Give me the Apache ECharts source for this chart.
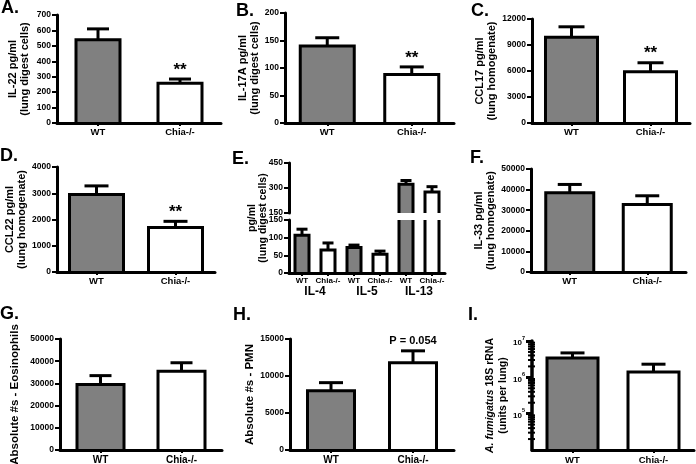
<!DOCTYPE html>
<html><head><meta charset="utf-8">
<script src="https://cdn.jsdelivr.net/npm/echarts@6/dist/echarts.min.js"></script>
<style>html,body{margin:0;padding:0;background:#fff}#c{width:696px;height:464px}</style>
</head><body><div id="c"></div>
<script>
// ---------- data ----------
const groups = ['WT', 'Chia-/-'];

const il22Mean = [540, 258];   const il22Sem = [70, 27];   const il22Sig = ['', '**'];
const il17aMean = [140, 88];   const il17aSem = [15, 14];  const il17aSig = ['', '**'];
const ccl17Mean = [9900, 5900]; const ccl17Sem = [1200, 1050]; const ccl17Sig = ['', '**'];
const ccl22Mean = [2950, 1700]; const ccl22Sem = [330, 230]; const ccl22Sig = ['', '**'];

const eCategories = ['WT', 'Chia-/-', 'WT', 'Chia-/-', 'WT', 'Chia-/-'];
const eCytokines = ['IL-4', 'IL-5', 'IL-13'];
const eMean = [107, 65, 72, 53, 322, 276];
const eSem = [17, 20, 7, 9, 23, 32];

const il33Mean = [38500, 32800]; const il33Sem = [4000, 4200];
const eosMean = [29500, 35500];  const eosSem = [4000, 3800];
const pmnMean = [8000, 11800];   const pmnSem = [1100, 1600]; const pmnSig = ['', 'P = 0.054'];
const afumMean = [3.4e6, 1.4e6]; const afumSem = [1.3e6, 0.9e6];
const afumMinorTicks = [2e4, 3e4, 4e4, 5e4, 6e4, 7e4, 8e4, 9e4,
                        2e5, 3e5, 4e5, 5e5, 6e5, 7e5, 8e5, 9e5,
                        2e6, 3e6, 4e6, 5e6, 6e6, 7e6, 8e6, 9e6];

// axis ranges [min, max, interval]
const il22Axis = [0, 700, 100];
const il17aAxis = [0, 200, 50];
const ccl17Axis = [0, 12000, 3000];
const ccl22Axis = [0, 4000, 1000];
const eUpperAxis = [150, 450, 150];
const eLowerAxis = [0, 150, 50];
const il33Axis = [0, 50000, 10000];
const eosAxis = [0, 50000, 10000];
const pmnAxis = [0, 15000, 5000];
const afumAxis = [1e4, 1e7];

// ---------- styling ----------
const FONT = '"Liberation Sans", Arial, Helvetica, sans-serif';
const GRAY = '#808080';
const FILLS = [GRAY, '#ffffff'];

const option = {
  animation: false,
  backgroundColor: '#ffffff',
  textStyle: { fontFamily: FONT },
  grid: [], xAxis: [], yAxis: [], series: [], graphic: []
};

function barRenderer(cfg) {
  return function (params, api) {
    const i = api.value(0), v = api.value(1), e = api.value(2);
    const top = api.coord([i, v]);
    const base = api.coord([i, cfg.base]);
    const et = api.coord([i, v + e]);
    const x = top[0], hw = cfg.barW / 2, hc = cfg.capW / 2;
    const kids = [
      { type: 'line', shape: { x1: x, y1: top[1], x2: x, y2: et[1] }, style: { stroke: '#000', lineWidth: 3, fill: 'none' } },
      { type: 'line', shape: { x1: x - hc, y1: et[1], x2: x + hc, y2: et[1] }, style: { stroke: '#000', lineWidth: 3, fill: 'none' } },
      { type: 'rect', shape: { x: x - hw, y: top[1], width: cfg.barW, height: base[1] - top[1] }, style: { fill: FILLS[i % 2], stroke: 'none' } },
      { type: 'polyline', shape: { points: [[x - hw, base[1]], [x - hw, top[1]], [x + hw, top[1]], [x + hw, base[1]]] }, style: { stroke: '#000', lineWidth: 3, fill: 'none' } }
    ];
    const s = cfg.sig && cfg.sig[i];
    if (s) {
      kids.push({ type: 'text', x: x, y: et[1] - cfg.sigGap,
        style: { text: s, fill: '#000', font: cfg.sigFont, align: 'center', verticalAlign: 'middle' } });
    }
    return { type: 'group', children: kids };
  };
}

function xAxisDef(gi, cats, fs, margin, extra) {
  return Object.assign({
    type: 'category', gridIndex: gi, data: cats, z: 5,
    axisLine: { show: true, lineStyle: { color: '#000', width: 3 } },
    axisTick: { show: true, alignWithLabel: true, length: 3, lineStyle: { color: '#000', width: 2 } },
    axisLabel: { color: '#000', fontWeight: 'bold', fontSize: fs, margin: margin, fontFamily: FONT, interval: 0 },
    splitLine: { show: false }
  }, extra || {});
}

function yAxisDef(gi, range, name, gap, nameFs, extra) {
  return Object.assign({
    type: 'value', gridIndex: gi, min: range[0], max: range[1], interval: range[2], z: 5,
    axisLine: { show: true, lineStyle: { color: '#000', width: 3 } },
    axisTick: { show: true, length: 5, lineStyle: { color: '#000', width: 2 } },
    axisLabel: { color: '#000', fontWeight: 'bold', fontSize: 8.5, margin: 6, fontFamily: FONT,
      formatter: function (v) { return String(v); } },
    splitLine: { show: false },
    name: name, nameLocation: 'middle', nameGap: gap,
    nameTextStyle: { color: '#000', fontWeight: 'bold', fontSize: nameFs, lineHeight: 12, fontFamily: FONT }
  }, extra || {});
}

function addGrid(rect) {
  option.grid.push({ left: rect[0], top: rect[1], width: rect[2], height: rect[3], containLabel: false, outerBoundsMode: 'none' });
  return option.grid.length - 1;
}
function addX(def) { option.xAxis.push(def); return option.xAxis.length - 1; }
function addY(def) { option.yAxis.push(def); return option.yAxis.length - 1; }

function simplePanel(p) {
  const gi = addGrid(p.rect);
  const xi = addX(xAxisDef(gi, groups, p.xfs, p.xmargin));
  const yi = addY(yAxisDef(gi, p.range, p.name, p.nameGap, p.nameFs));
  option.series.push({
    type: 'custom', xAxisIndex: xi, yAxisIndex: yi, clip: false,
    data: p.mean.map((m, i) => [i, m, p.sem[i]]),
    renderItem: barRenderer({ base: 0, barW: p.barW, capW: p.capW, sig: p.sig, sigGap: p.sigGap || 9, sigFont: p.sigFont || ('bold 17px ' + FONT) })
  });
}

simplePanel({ rect: [57, 15, 164, 108], range: il22Axis, mean: il22Mean, sem: il22Sem, sig: il22Sig,
  name: 'IL-22 pg/ml\n(lung digest cells)', nameGap: 26, nameFs: 11, xfs: 9.5, xmargin: 4, barW: 44, capW: 22 });
simplePanel({ rect: [285, 13, 169, 110], range: il17aAxis, mean: il17aMean, sem: il17aSem, sig: il17aSig,
  name: 'IL-17A pg/ml\n(lung digest cells)', nameGap: 20, nameFs: 11, xfs: 9.5, xmargin: 4, barW: 54, capW: 24 });
simplePanel({ rect: [532, 19, 158, 104], range: ccl17Axis, mean: ccl17Mean, sem: ccl17Sem, sig: ccl17Sig,
  name: 'CCL17 pg/ml\n(lung homogenate)', nameGap: 20, nameFs: 11, xfs: 9.5, xmargin: 4, barW: 52, capW: 26 });
simplePanel({ rect: [57, 167, 158, 105], range: ccl22Axis, mean: ccl22Mean, sem: ccl22Sem, sig: ccl22Sig,
  name: 'CCL22 pg/ml\n(lung homogenate)', nameGap: 29, nameFs: 11, xfs: 9.5, xmargin: 4, barW: 54, capW: 24 });
simplePanel({ rect: [531, 169, 155, 103], range: il33Axis, mean: il33Mean, sem: il33Sem,
  name: 'IL-33 pg/ml\n(lung homogenate)', nameGap: 23, nameFs: 11, xfs: 9.5, xmargin: 4, barW: 48, capW: 24 });
simplePanel({ rect: [60, 339, 162, 111], range: eosAxis, mean: eosMean, sem: eosSem,
  name: 'Absolute #s - Eosinophils', nameGap: 39, nameFs: 11.5, xfs: 10, xmargin: 5, barW: 47, capW: 22 });
simplePanel({ rect: [290, 339, 164, 111], range: pmnAxis, mean: pmnMean, sem: pmnSem, sig: pmnSig,
  name: 'Absolute #s - PMN', nameGap: 34, nameFs: 11.5, xfs: 10, xmargin: 5, barW: 47, capW: 24,
  sigGap: 10, sigFont: 'bold 11px ' + FONT });

// ---------- Panel E (broken axis) ----------
(function () {
  const gTop = addGrid([289, 163, 156, 50]);
  const xTop = addX(xAxisDef(gTop, eCategories, 8, 4, { show: false }));
  const yTop = addY(yAxisDef(gTop, eUpperAxis, '', 0, 9));
  option.series.push({
    type: 'custom', xAxisIndex: xTop, yAxisIndex: yTop, clip: true,
    data: eMean.map((m, i) => [i, m, eSem[i]]),
    renderItem: barRenderer({ base: 0, barW: 14, capW: 11 })
  });
  const gBot = addGrid([289, 220, 156, 53]);
  const xBot = addX(xAxisDef(gBot, eCategories, 8, 4));
  addX({
    type: 'category', gridIndex: gBot, data: eCytokines, position: 'bottom',
    axisLine: { show: false }, axisTick: { show: false }, splitLine: { show: false },
    axisLabel: { color: '#000', fontWeight: 'bold', fontSize: 12, margin: 13, fontFamily: FONT, interval: 0 }
  });
  const yBot = addY(yAxisDef(gBot, eLowerAxis, '', 0, 9));
  option.series.push({
    type: 'custom', xAxisIndex: xBot, yAxisIndex: yBot, clip: true,
    data: eMean.map((m, i) => [i, m, eSem[i]]),
    renderItem: barRenderer({ base: 0, barW: 14, capW: 11 })
  });
  option.graphic.push({
    type: 'text', x: 258, y: 218, rotation: Math.PI / 2,
    style: { text: 'pg/ml\n(lung digest cells)', fill: '#000', font: 'bold 10.5px ' + FONT, lineHeight: 11,
      align: 'center', verticalAlign: 'middle' }
  });
})();

// ---------- Panel I (log axis) ----------
(function () {
  const gi = addGrid([532, 341, 162, 109]);
  const xi = addX(xAxisDef(gi, groups, 9.5, 5));
  const yi = addY({
    type: 'log', logBase: 10, gridIndex: gi, min: afumAxis[0], max: afumAxis[1], z: 5,
    axisLine: { show: true, lineStyle: { color: '#000', width: 3.5 } },
    axisTick: { show: true, length: 6, lineStyle: { color: '#000', width: 3 } },
    splitLine: { show: false },
    axisLabel: {
      color: '#000', margin: 7, fontFamily: FONT, showMinLabel: false,
      formatter: function (v) {
        const e = Math.round(Math.log10(v));
        if (e <= 4) return '';
        return '{b|10}{s|' + e + '}';
      },
      rich: {
        b: { fontSize: 8, fontWeight: 'bold', fontFamily: FONT, lineHeight: 12, verticalAlign: 'bottom' },
        s: { fontSize: 5.5, fontWeight: 'bold', fontFamily: FONT, lineHeight: 6, verticalAlign: 'top' }
      }
    },
    name: '{i|A. fumigatus}{n| 18S rRNA}\n{n|(units per lung)}', nameLocation: 'middle', nameGap: 21,
    nameTextStyle: { color: '#000', fontWeight: 'bold', fontSize: 10.5, lineHeight: 13, fontFamily: FONT,
      rich: {
        i: { color: '#000', fontStyle: 'italic', fontWeight: 'bold', fontSize: 10.5, lineHeight: 13, fontFamily: FONT },
        n: { color: '#000', fontWeight: 'bold', fontSize: 10.5, lineHeight: 13, fontFamily: FONT }
      } }
  });
  option.series.push({
    type: 'custom', xAxisIndex: xi, yAxisIndex: yi, clip: false,
    data: afumMean.map((m, i) => [i, m, afumSem[i]]),
    renderItem: barRenderer({ base: afumAxis[0], barW: 51, capW: 24 })
  });
  option.series.push({
    type: 'custom', xAxisIndex: xi, yAxisIndex: yi, clip: false, z: 6,
    data: afumMinorTicks.map(v => [0, v]),
    renderItem: function (params, api) {
      const p = api.coord([0, api.value(1)]);
      const band = api.size([1, 0])[0];
      const ax = p[0] - band / 2;
      return { type: 'line', shape: { x1: ax - 4, y1: p[1], x2: ax + 3, y2: p[1] }, style: { stroke: '#000', lineWidth: 2 } };
    }
  });
})();

// ---------- panel letters ----------
const letters = [['A.', 1, -1], ['B.', 236, 2], ['C.', 471, 2], ['D.', 0, 147], ['E.', 232, 150], ['F.', 470, 149],
                 ['G.', 0, 305], ['H.', 233, 306], ['I.', 468, 306]];
letters.forEach(l => option.graphic.push({
  type: 'text', x: l[1], y: l[2],
  style: { text: l[0], fill: '#000', font: 'bold 18px ' + FONT, align: 'left', verticalAlign: 'top' }
}));

const chart = echarts.init(document.getElementById('c'), null, { renderer: 'canvas' });
chart.setOption(option);
</script>
</body></html>
